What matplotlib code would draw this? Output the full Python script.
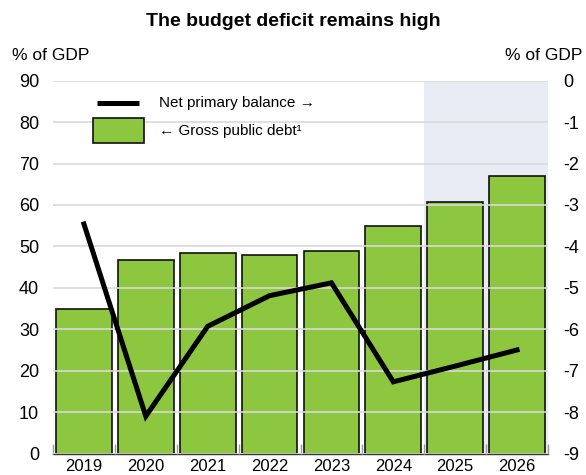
import matplotlib
matplotlib.use("Agg")
import matplotlib.pyplot as plt
from matplotlib.lines import Line2D
from matplotlib.patches import Rectangle
import numpy as np

plt.rcParams['font.family'] = ['Liberation Sans', 'DejaVu Sans']
plt.rcParams['axes.unicode_minus'] = False

years = ["2019", "2020", "2021", "2022", "2023", "2024", "2025", "2026"]
gross_debt = [35.0, 46.7, 48.5, 48.0, 48.9, 54.9, 60.8, 67.0]
net_primary_balance = [-3.46, -8.1, -5.93, -5.19, -4.88, -7.27, -6.89, -6.5]
left_ticks = [0, 10, 20, 30, 40, 50, 60, 70, 80, 90]
right_ticks = [0, -1, -2, -3, -4, -5, -6, -7, -8, -9]
projection_start = "2025"
legend_labels = ["Net primary balance \u2192", "\u2190 Gross public debt\u00b9"]

green = "#8dc63f"
shade = "#e9ecf5"
grid_c = "#d9d9d9"

W, H = 586, 475
fig = plt.figure(figsize=(W/100, H/100), dpi=100)
ax = fig.add_axes([53/W, 1-453.5/H, (548-53)/W, (453.5-80.7)/H])
x = np.arange(len(years))

ps = years.index(projection_start)
ax.axvspan(ps - 0.5, len(years) - 0.5, color=shade, zorder=0, lw=0)
ax.bar(x, gross_debt, width=0.9, color=green, edgecolor="#111111", linewidth=1.2, zorder=1)
ax.set_ylim(0, 90)
ax.set_xlim(-0.5, len(years) - 0.5)
ax.set_yticks(left_ticks)
ax.set_xticks(x)
ax.set_xticklabels(years)
ax.set_xticks(np.arange(len(years) + 1) - 0.5, minor=True)
ax.tick_params(axis='x', which='major', length=0, labelsize=12, pad=4)
ax.tick_params(axis='x', which='minor', length=7, direction='in', color="#999999", width=1)
ax.tick_params(axis='y', length=0, labelsize=13, pad=10)
ax.grid(axis='y', color=grid_c, linewidth=1.2, zorder=2)
ax.set_axisbelow(False)
for s in ['top', 'left', 'right']:
    ax.spines[s].set_visible(False)
ax.spines['bottom'].set_color("#333333")
ax.spines['bottom'].set_linewidth(1)

ax2 = ax.twinx()
ax2.plot(x, net_primary_balance, color="black", linewidth=3.6, solid_joinstyle='miter', zorder=3)
ax2.set_ylim(-9, 0)
ax2.set_yticks(right_ticks)
ax2.tick_params(axis='y', length=0, labelsize=13, pad=11)
for s in ['top', 'left', 'right', 'bottom']:
    ax2.spines[s].set_visible(False)

# manual legend (figure pixel coordinates converted to fractions)
def fx(px):
    return px / W
def fy(py):
    return 1 - py / H

fig.add_artist(Line2D([fx(97), fx(139)], [fy(103), fy(103)], color="black", linewidth=3.6,
                      solid_capstyle='butt'))
fig.add_artist(Rectangle((fx(93), fy(143)), fx(144) - fx(93), fy(118) - fy(143),
                         facecolor=green, edgecolor="#111111", linewidth=1.2))
fig.text(fx(159), fy(103), legend_labels[0], ha='left', va='center', fontsize=11)
fig.text(fx(159), fy(131), legend_labels[1], ha='left', va='center', fontsize=11)

fig.text(0.5, fy(22), "The budget deficit remains high", ha='center', va='center',
         fontsize=14, fontweight='bold')
fig.text(fx(12), fy(56), "% of GDP", ha='left', va='center', fontsize=12.5)
fig.text(fx(582), fy(56), "% of GDP", ha='right', va='center', fontsize=12.5)

fig.savefig("out.png", dpi=100)
